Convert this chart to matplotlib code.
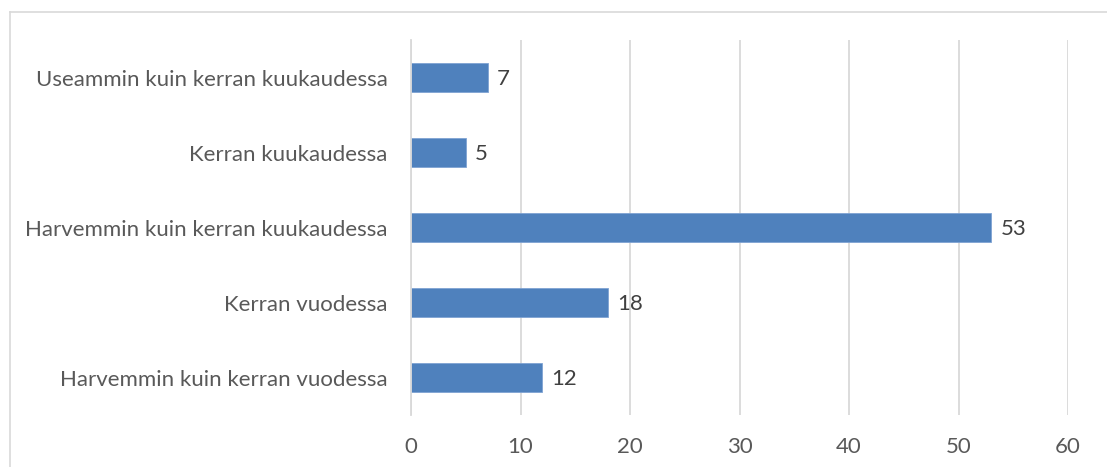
import matplotlib
matplotlib.use("Agg")
import matplotlib.pyplot as plt
from matplotlib.lines import Line2D

categories = [
    "Harvemmin kuin kerran vuodessa",
    "Kerran vuodessa",
    "Harvemmin kuin kerran kuukaudessa",
    "Kerran kuukaudessa",
    "Useammin kuin kerran kuukaudessa",
]
values = [12, 18, 53, 5, 7]
x_ticks = [0, 10, 20, 30, 40, 50, 60]

W, H = 1107, 467
fig = plt.figure(figsize=(W / 100, H / 100), dpi=100)
plt.rcParams["font.family"] = ["Lato", "DejaVu Sans"]

text_color = "#595959"
grid_color = "#D9D9D9"
bar_color = "#4F81BD"
fs = 16

# plot area in pixels
left, right, top, bottom = 411, 1068, 40, 415
ax = fig.add_axes([left / W, 1 - bottom / H, (right - left) / W, (bottom - top) / H])

pos = list(range(len(categories)))
ax.barh(pos, values, height=0.39, color=bar_color, edgecolor="#7FA3D3",
        linewidth=0.6, zorder=3)

for p, v in zip(pos, values):
    ax.annotate(str(v), xy=(v, p), xytext=(6.5, -1), textcoords="offset points",
                ha="left", va="center", fontsize=fs, color="#404040")

ax.set_xlim(0, 60)
ax.set_ylim(-0.5, len(categories) - 0.5)
ax.set_xticks(x_ticks)
ax.set_xticklabels([str(t) for t in x_ticks])
ax.set_yticks(pos)
ax.set_yticklabels(categories)

ax.tick_params(axis="both", length=0, labelsize=fs, labelcolor=text_color)
ax.tick_params(axis="x", pad=16)
ax.tick_params(axis="y", pad=17)

ax.grid(axis="x", color=grid_color, linewidth=1.3, zorder=0)
for s in ["top", "right", "bottom"]:
    ax.spines[s].set_visible(False)
ax.spines["left"].set_color(grid_color)
ax.spines["left"].set_linewidth(1.3)
ax.spines["left"].set_zorder(4)

# chart frame
fx0, fy0 = 9.5 / W, 1 - 11.5 / H
fig.add_artist(Line2D([fx0, 1.0], [fy0, fy0], transform=fig.transFigure,
                      color=grid_color, linewidth=1.2))
fig.add_artist(Line2D([fx0, fx0], [fy0, 0.0], transform=fig.transFigure,
                      color=grid_color, linewidth=1.2))

fig.savefig("out.png", dpi=100)
